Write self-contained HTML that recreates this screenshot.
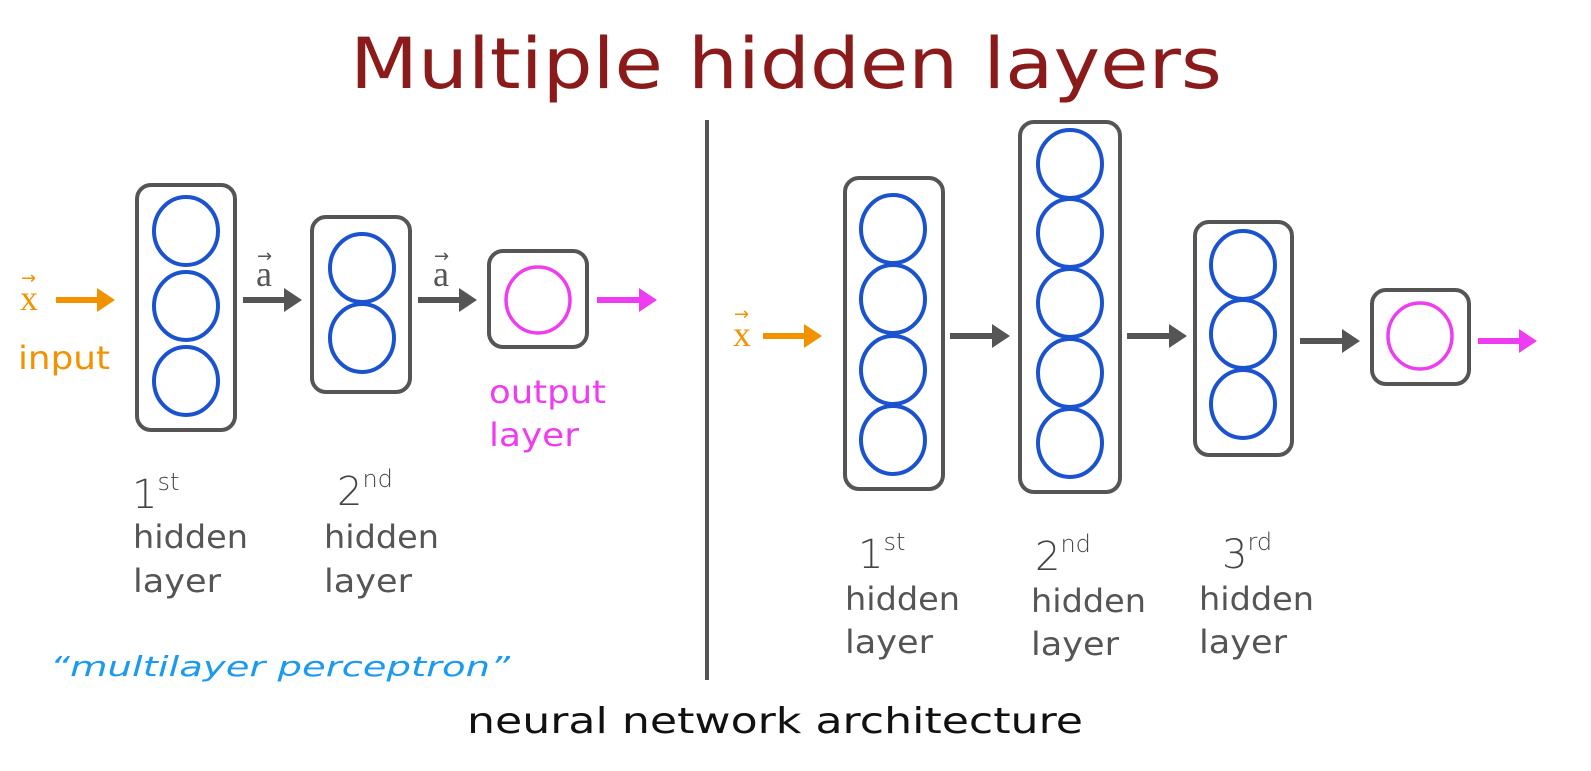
<!DOCTYPE html>
<html><head><style>
body{margin:0;background:#fff;}
svg text{font-family:"DejaVu Sans","Liberation Sans",sans-serif;}
</style></head><body>
<svg width="1591" height="766" viewBox="0 0 1591 766" xmlns="http://www.w3.org/2000/svg">
<defs>
<marker id="g" markerWidth="4" markerHeight="4" refX="1.5" refY="2" orient="auto"><path d="M0,0 L3,2 L0,4Z" fill="#555"/></marker>
<marker id="o" markerWidth="4" markerHeight="4" refX="1.5" refY="2" orient="auto"><path d="M0,0 L3,2 L0,4Z" fill="#f39200"/></marker>
<marker id="p" markerWidth="4" markerHeight="4" refX="1.5" refY="2" orient="auto"><path d="M0,0 L3,2 L0,4Z" fill="#f03cf0"/></marker>
</defs>
<text x="350" y="88" font-size="70" fill="#8b1a1a" textLength="872" lengthAdjust="spacingAndGlyphs">Multiple hidden layers</text>
<line x1="707" y1="120" x2="707" y2="680" stroke="#555" stroke-width="4"/>
<g fill="none" stroke="#555" stroke-width="4">
<rect x="137" y="185" width="98" height="245" rx="14"/>
<rect x="312" y="217" width="98" height="175" rx="14"/>
<rect x="489" y="251" width="98" height="96" rx="14"/>
<rect x="845" y="178" width="98" height="311" rx="14"/>
<rect x="1020" y="122" width="100" height="370" rx="14"/>
<rect x="1195" y="222" width="97" height="233" rx="14"/>
<rect x="1372" y="290" width="97" height="94" rx="14"/>
</g>
<g fill="none" stroke="#1a52d0" stroke-width="4">
<ellipse cx="186" cy="231" rx="32" ry="34"/><ellipse cx="186" cy="306" rx="32" ry="34"/><ellipse cx="186" cy="381" rx="32" ry="34"/>
<ellipse cx="362" cy="268" rx="32" ry="34"/><ellipse cx="362" cy="338" rx="32" ry="34"/>
<ellipse cx="893" cy="229" rx="32" ry="34"/><ellipse cx="893" cy="299" rx="32" ry="34"/><ellipse cx="893" cy="370" rx="32" ry="34"/><ellipse cx="893" cy="440" rx="32" ry="34"/>
<ellipse cx="1070" cy="164" rx="32" ry="34"/><ellipse cx="1070" cy="233" rx="32" ry="34"/><ellipse cx="1070" cy="303" rx="32" ry="34"/><ellipse cx="1070" cy="373" rx="32" ry="34"/><ellipse cx="1070" cy="443" rx="32" ry="34"/>
<ellipse cx="1243" cy="265" rx="32" ry="34"/><ellipse cx="1243" cy="334" rx="32" ry="34"/><ellipse cx="1243" cy="404" rx="32" ry="34"/>
</g>
<g fill="none" stroke="#f03cf0" stroke-width="3.5">
<ellipse cx="538" cy="300" rx="32" ry="33"/><ellipse cx="1420" cy="336" rx="32" ry="33"/>
</g>
<g stroke-width="6">
<line x1="56" y1="300" x2="106" y2="300" stroke="#f39200" marker-end="url(#o)"/>
<line x1="243" y1="300" x2="293" y2="300" stroke="#555" marker-end="url(#g)"/>
<line x1="418" y1="300" x2="468" y2="300" stroke="#555" marker-end="url(#g)"/>
<line x1="597" y1="300" x2="648" y2="300" stroke="#f03cf0" marker-end="url(#p)"/>
<line x1="763" y1="336" x2="813" y2="336" stroke="#f39200" marker-end="url(#o)"/>
<line x1="950" y1="336" x2="1001" y2="336" stroke="#555" marker-end="url(#g)"/>
<line x1="1127" y1="336" x2="1178" y2="336" stroke="#555" marker-end="url(#g)"/>
<line x1="1300" y1="341" x2="1351" y2="341" stroke="#555" marker-end="url(#g)"/>
<line x1="1478" y1="341" x2="1528" y2="341" stroke="#f03cf0" marker-end="url(#p)"/>
</g>
<g font-size="36">
<text x="20" y="310" fill="#f39200" style="font-family:'Liberation Serif',serif">x</text><text x="21" y="284" fill="#f39200" font-size="18">→</text>
<text x="733" y="346" fill="#f39200" style="font-family:'Liberation Serif',serif">x</text><text x="734" y="320" fill="#f39200" font-size="18">→</text>
<text x="256" y="286" fill="#555" style="font-family:'Liberation Serif',serif">a</text><text x="257" y="262" fill="#555" font-size="18">→</text>
<text x="433" y="286" fill="#555" style="font-family:'Liberation Serif',serif">a</text><text x="434" y="262" fill="#555" font-size="18">→</text>
</g>
<text x="18" y="369" font-size="32" fill="#f39200" textLength="92" lengthAdjust="spacingAndGlyphs">input</text>
<text x="489" y="403" font-size="32" fill="#f03cf0" textLength="117" lengthAdjust="spacingAndGlyphs">output</text>
<text x="489" y="446" font-size="32" fill="#f03cf0" textLength="90" lengthAdjust="spacingAndGlyphs">layer</text>
<g font-size="32" fill="#555">
<text x="133" y="548" textLength="115" lengthAdjust="spacingAndGlyphs">hidden</text><text x="133" y="592" textLength="88" lengthAdjust="spacingAndGlyphs">layer</text>
<text x="324" y="548" textLength="115" lengthAdjust="spacingAndGlyphs">hidden</text><text x="324" y="592" textLength="88" lengthAdjust="spacingAndGlyphs">layer</text>
<text x="845" y="610" textLength="115" lengthAdjust="spacingAndGlyphs">hidden</text><text x="845" y="653" textLength="88" lengthAdjust="spacingAndGlyphs">layer</text>
<text x="1031" y="612" textLength="115" lengthAdjust="spacingAndGlyphs">hidden</text><text x="1031" y="655" textLength="88" lengthAdjust="spacingAndGlyphs">layer</text>
<text x="1199" y="610" textLength="115" lengthAdjust="spacingAndGlyphs">hidden</text><text x="1199" y="653" textLength="88" lengthAdjust="spacingAndGlyphs">layer</text>
</g>
<g font-weight="200" fill="#444">
<text x="132" y="508" font-size="40">1<tspan font-size="24" dy="-18">st</tspan></text>
<text x="337" y="505" font-size="40">2<tspan font-size="24" dy="-18">nd</tspan></text>
<text x="858" y="568" font-size="40">1<tspan font-size="24" dy="-18">st</tspan></text>
<text x="1035" y="570" font-size="40">2<tspan font-size="24" dy="-18">nd</tspan></text>
<text x="1222" y="568" font-size="40">3<tspan font-size="24" dy="-18">rd</tspan></text>
</g>
<text x="50" y="676" font-size="28" fill="#1a9af0" font-style="italic" textLength="460" lengthAdjust="spacingAndGlyphs">“multilayer perceptron”</text>
<text x="467" y="733" font-size="36" fill="#111" textLength="616" lengthAdjust="spacingAndGlyphs">neural network architecture</text>
</svg>
</body></html>
